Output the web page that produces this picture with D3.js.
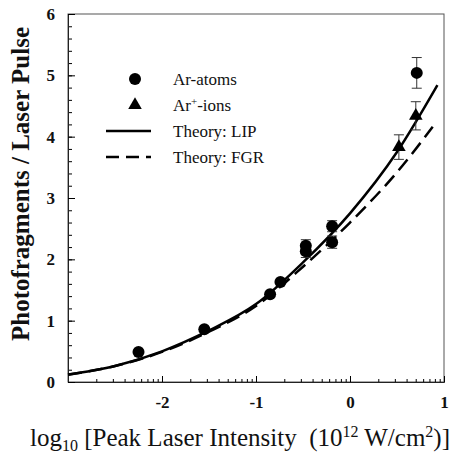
<!DOCTYPE html>
<html>
<head>
<meta charset="utf-8">
<script src="https://cdn.jsdelivr.net/npm/d3@7"></script>
<style>
body { margin: 0; background: #fff; }
text { font-family: "Liberation Serif", "Times New Roman", serif; fill: #111; }
</style>
</head>
<body>
<script>
var width = 456;
var height = 455;

// Ar atoms
var atomsX = [-2.25, -1.55, -0.85, -0.74, -0.47, -0.47, -0.19, -0.19, 0.71];
var atomsY = [0.49, 0.86, 1.43, 1.63, 2.22, 2.13, 2.54, 2.28, 5.04];
var atomsErr = [0, 0, 0, 0, 0.1, 0.1, 0.09, 0.1, 0.25];

// Ar+ ions
var ionsX = [0.52, 0.70];
var ionsY = [3.83, 4.34];
var ionsErr = [0.2, 0.23];

// theory curves
var lipX = [-3, -2.5, -2, -1.5, -1, -0.5, 0, 0.5, 0.93];
var lipY = [0.12, 0.26, 0.5, 0.84, 1.27, 1.95, 2.75, 3.75, 4.84];
var fgrX = [-3, -2.5, -2, -1.5, -1, -0.5, 0, 0.5, 0.88];
var fgrY = [0.12, 0.26, 0.49, 0.82, 1.24, 1.88, 2.6, 3.42, 4.16];

var xMajor = [-2, -1, 0, 1];
var yMajor = [0, 1, 2, 3, 4, 5, 6];

var legendLabels = ["Ar-atoms", "Ar+-ions", "Theory: LIP", "Theory: FGR"];

var pLeft = 68, pRight = 444, pTop = 14, pBottom = 382;

var x = d3.scaleLinear().domain([-3, 1]).range([pLeft, pRight]);
var xLog = d3.scaleLog().domain([1e-3, 10]).range([pLeft, pRight]);
var y = d3.scaleLinear().domain([0, 6]).range([pBottom, pTop]);

var svg = d3.select("body").append("svg")
	.attr("width", width)
	.attr("height", height);

// frame
svg.append("rect")
	.attr("x", pLeft)
	.attr("y", pTop)
	.attr("width", pRight - pLeft)
	.attr("height", pBottom - pTop)
	.attr("fill", "none")
	.attr("stroke", "#555")
	.attr("stroke-width", 1);

// x axis: minor log ticks, then major with labels
var minorX = xLog.ticks().filter(v => Math.abs(Math.log10(v) - Math.round(Math.log10(v))) > 1e-6);
svg.append("g")
	.attr("transform", `translate(0,${pBottom})`)
	.call(d3.axisBottom(xLog).tickValues(minorX).tickSize(-3).tickFormat(""))
	.call(g => g.select(".domain").remove());

svg.append("g")
	.attr("transform", `translate(0,${pBottom})`)
	.call(d3.axisBottom(x).tickValues(xMajor).tickSize(-6).tickPadding(14).tickFormat(d => String(d)))
	.call(g => g.select(".domain").attr("stroke", "#222"))
	.call(g => g.selectAll("text")
		.attr("font-size", "17px")
		.attr("font-weight", "bold")
		.attr("font-family", "Liberation Serif"));

// y axis
svg.append("g")
	.attr("transform", `translate(${pLeft},0)`)
	.call(d3.axisLeft(y).ticks(30).tickSize(-4).tickFormat(""))
	.call(g => g.select(".domain").remove());

svg.append("g")
	.attr("transform", `translate(${pLeft},0)`)
	.call(d3.axisLeft(y).tickValues(yMajor).tickSize(-7).tickPadding(13).tickFormat(d => String(d)))
	.call(g => g.select(".domain").attr("stroke", "#222"))
	.call(g => g.selectAll("text")
		.attr("font-size", "17px")
		.attr("font-weight", "bold")
		.attr("font-family", "Liberation Serif"));

// theory curves
var line = d3.line()
	.x(d => x(d[0]))
	.y(d => y(d[1]))
	.curve(d3.curveMonotoneX);

svg.append("path")
	.datum(fgrX.map((v, i) => [v, fgrY[i]]))
	.attr("d", line)
	.attr("fill", "none")
	.attr("stroke", "#000")
	.attr("stroke-width", 2.5)
	.attr("stroke-dasharray", "14,7");

svg.append("path")
	.datum(lipX.map((v, i) => [v, lipY[i]]))
	.attr("d", line)
	.attr("fill", "none")
	.attr("stroke", "#000")
	.attr("stroke-width", 2.5);

// error bars
function drawErr(xs, ys, es) {
	var bars = xs.map((v, i) => ({x: v, y: ys[i], e: es[i]})).filter(d => d.e > 0);
	var g = svg.append("g").attr("stroke", "#333").attr("stroke-width", 1);
	g.selectAll(".v").data(bars).enter().append("line")
		.attr("x1", d => x(d.x)).attr("x2", d => x(d.x))
		.attr("y1", d => y(d.y - d.e)).attr("y2", d => y(d.y + d.e));
	g.selectAll(".t").data(bars).enter().append("line")
		.attr("x1", d => x(d.x) - 5).attr("x2", d => x(d.x) + 5)
		.attr("y1", d => y(d.y + d.e)).attr("y2", d => y(d.y + d.e));
	g.selectAll(".b").data(bars).enter().append("line")
		.attr("x1", d => x(d.x) - 5).attr("x2", d => x(d.x) + 5)
		.attr("y1", d => y(d.y - d.e)).attr("y2", d => y(d.y - d.e));
}
drawErr(atomsX, atomsY, atomsErr);
drawErr(ionsX, ionsY, ionsErr);

svg.append("g").selectAll("circle")
	.data(atomsX.map((v, i) => [v, atomsY[i]]))
	.enter().append("circle")
	.attr("cx", d => x(d[0]))
	.attr("cy", d => y(d[1]))
	.attr("r", 6)
	.attr("fill", "#000");

var tri = d3.symbol().type(d3.symbolTriangle).size(80);
svg.append("g").selectAll("path")
	.data(ionsX.map((v, i) => [v, ionsY[i]]))
	.enter().append("path")
	.attr("d", tri)
	.attr("transform", d => `translate(${x(d[0])},${y(d[1])})`)
	.attr("fill", "#000");

// legend
var leg = svg.append("g");
var rowY = [79, 105, 131, 157];
leg.append("circle").attr("cx", 135).attr("cy", rowY[0]).attr("r", 6).attr("fill", "#000");
leg.append("path").attr("d", tri).attr("transform", `translate(135,${rowY[1]})`).attr("fill", "#000");
leg.append("line").attr("x1", 106).attr("x2", 151).attr("y1", rowY[2]).attr("y2", rowY[2])
	.attr("stroke", "#000").attr("stroke-width", 2.5);
leg.append("line").attr("x1", 106).attr("x2", 151).attr("y1", rowY[3]).attr("y2", rowY[3])
	.attr("stroke", "#000").attr("stroke-width", 2.5).attr("stroke-dasharray", "13,7");

legendLabels.forEach(function(lab, i) {
	var t = leg.append("text")
		.attr("x", 173)
		.attr("y", rowY[i] + 6)
		.attr("font-size", "17px");
	if (lab.indexOf("+") > 0) {
		var parts = lab.split("+");
		t.append("tspan").text(parts[0]);
		t.append("tspan").attr("baseline-shift", "super").attr("font-size", "11px").text("+");
		t.append("tspan").text(parts[1]);
	} else {
		t.text(lab);
	}
});

// axis titles
svg.append("text")
	.attr("transform", "translate(29,184) rotate(-90)")
	.attr("text-anchor", "middle")
	.attr("font-size", "25px")
	.attr("font-weight", "bold")
	.text("Photofragments / Laser Pulse");

var xt = svg.append("text")
	.attr("x", 30)
	.attr("y", 446)
	.attr("font-size", "25px")
	.attr("xml:space", "preserve");
xt.append("tspan").text("log");
xt.append("tspan").attr("font-size", "16px").attr("dy", 5).text("10");
xt.append("tspan").attr("dy", -5).text(" [Peak Laser Intensity  (10");
xt.append("tspan").attr("font-size", "16px").attr("dy", -9).text("12");
xt.append("tspan").attr("dy", 9).text(" W/cm");
xt.append("tspan").attr("font-size", "16px").attr("dy", -9).text("2");
xt.append("tspan").attr("dy", 9).text(")]");
</script>
</body>
</html>
